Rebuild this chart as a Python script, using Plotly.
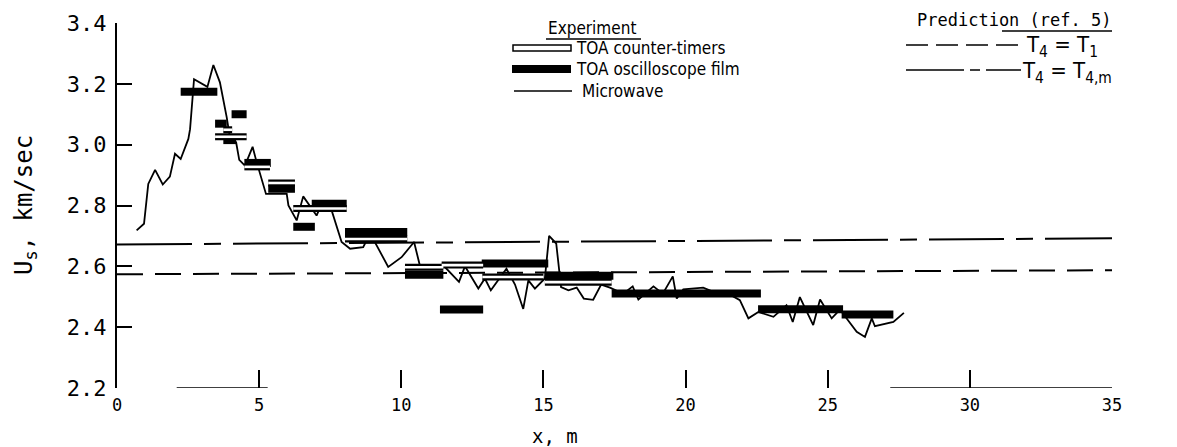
import plotly.graph_objects as go

# ---------------- data ----------------
# Microwave measurement (x in m, Us in km/sec)
mw_x = [0.69, 0.95, 1.10, 1.34, 1.61, 1.86, 2.04, 2.24, 2.51, 2.57, 2.71, 2.98, 3.18, 3.39,
        3.62, 3.86, 3.97, 4.19, 4.30, 4.50, 4.77, 4.89, 5.24, 5.97, 6.03, 6.32, 6.55, 7.02,
        7.20, 7.55, 7.90, 8.20, 8.66, 8.84, 9.07, 9.54, 10.01, 10.45, 10.66, 11.22, 11.45,
        12.03, 12.24, 12.71, 12.94, 13.15, 13.70, 14.00, 14.29, 14.47, 14.70, 15.05, 15.20,
        15.45, 15.62, 15.88, 16.17, 16.42, 16.75, 17.03, 17.34, 17.81, 18.14, 18.34, 18.87,
        19.20, 19.55, 19.69, 19.92, 20.62, 21.00, 21.50, 21.91, 22.21, 22.56, 23.09, 23.55,
        23.77, 24.02, 24.49, 24.73, 25.14, 25.43, 26.02, 26.31, 26.55, 26.66, 27.31, 27.54,
        27.68]
mw_v = [2.718, 2.740, 2.871, 2.917, 2.869, 2.895, 2.970, 2.953, 3.019, 3.051, 3.215, 3.199,
        3.190, 3.262, 3.205, 3.090, 3.024, 3.008, 2.950, 2.931, 2.993, 2.950, 2.838, 2.838,
        2.800, 2.751, 2.830, 2.767, 2.806, 2.784, 2.680, 2.658, 2.663, 2.696, 2.680, 2.598,
        2.630, 2.680, 2.600, 2.592, 2.606, 2.549, 2.600, 2.527, 2.560, 2.521, 2.592, 2.540,
        2.460, 2.554, 2.527, 2.560, 2.700, 2.675, 2.532, 2.521, 2.530, 2.494, 2.490, 2.540,
        2.530, 2.510, 2.534, 2.491, 2.534, 2.510, 2.567, 2.494, 2.524, 2.530, 2.515, 2.510,
        2.489, 2.429, 2.450, 2.434, 2.472, 2.417, 2.499, 2.407, 2.491, 2.429, 2.458, 2.385,
        2.368, 2.429, 2.403, 2.417, 2.434, 2.447]

# TOA oscilloscope film (filled bars): start x, end x, Us
film_x0 = [2.24, 4.03, 3.45, 3.74, 4.48, 5.32, 6.20, 6.85, 8.02, 10.13, 11.36, 12.83, 15.05, 17.40, 22.55, 25.49]
film_x1 = [3.53, 4.56, 3.86, 4.19, 5.41, 6.26, 6.96, 8.08, 10.21, 11.48, 12.88, 15.17, 17.46, 22.65, 25.54, 27.31]
film_v = [3.174, 3.100, 3.069, 3.015, 2.940, 2.855, 2.730, 2.806, 2.713, 2.572, 2.458, 2.609, 2.569, 2.511, 2.459, 2.442]

# TOA counter-timers (open bars): start x, end x, Us
timer_x0 = [3.45, 3.74, 4.48, 5.32, 6.20, 8.02, 10.13, 11.42, 12.85, 15.05]
timer_x1 = [4.56, 4.05, 5.38, 6.26, 8.08, 10.21, 11.48, 12.88, 15.00, 17.40]
timer_v = [3.026, 3.049, 2.927, 2.874, 2.790, 2.690, 2.597, 2.604, 2.565, 2.548]

# Predictions (ref. 5)
pred_x = [0, 35]
pred_t4_t1 = [2.574, 2.587]
pred_t4_t4m = [2.672, 2.692]

# axis ticks
x_ticks = [0, 5, 10, 15, 20, 25, 30, 35]
y_ticks = [2.2, 2.4, 2.6, 2.8, 3.0, 3.2, 3.4]


def segs(x0, x1, v):
    xs, ys = [], []
    for a, b, c in zip(x0, x1, v):
        xs += [a, b, None]
        ys += [c, c, None]
    return xs, ys


fig = go.Figure()

fig.add_trace(go.Scatter(x=pred_x, y=pred_t4_t4m, mode="lines",
                         line=dict(color="black", width=2, dash="75px,12px,17px,12px"),
                         hoverinfo="skip"))
fig.add_trace(go.Scatter(x=pred_x, y=pred_t4_t1, mode="lines",
                         line=dict(color="black", width=2, dash="26px,12px"),
                         hoverinfo="skip"))
fig.add_trace(go.Scatter(x=mw_x, y=mw_v, mode="lines",
                         line=dict(color="black", width=1.8), hoverinfo="skip"))

tx, ty = segs(timer_x0, timer_x1, timer_v)
fx, fy = segs(film_x0, film_x1, film_v)
fig.add_trace(go.Scatter(x=tx, y=ty, mode="lines", line=dict(color="black", width=7),
                         hoverinfo="skip"))
fig.add_trace(go.Scatter(x=fx, y=fy, mode="lines", line=dict(color="black", width=8),
                         hoverinfo="skip"))
fig.add_trace(go.Scatter(x=tx, y=ty, mode="lines", line=dict(color="white", width=2.6),
                         hoverinfo="skip"))

# ---------------- layout ----------------
L, R, T, B = 117, 1112, 23, 388
W, H = 1177, 447


def px(xp):
    return (xp - L) / (R - L)


def py(yp):
    return (B - yp) / (B - T)


FONT = "DejaVu Sans Mono, monospace"
LFONT = "DejaVu Sans Condensed, DejaVu Sans Mono, sans-serif"

shapes = []
annotations = []

# partial bottom axis (as in the scan)
for a, b in [(2.1, 5.3), (27.2, 35)]:
    shapes.append(dict(type="line", xref="x", yref="y", x0=a, x1=b, y0=2.2, y1=2.2,
                       line=dict(color="black", width=1.5)))

# legend: Experiment
annotations.append(dict(text="Experiment", x=px(546), y=py(28), xref="paper", yref="paper",
                        xanchor="left", yanchor="middle", showarrow=False,
                        font=dict(family=LFONT, size=17, color="black")))
shapes.append(dict(type="line", xref="paper", yref="paper", x0=px(546), x1=px(641),
                   y0=py(39), y1=py(39), line=dict(color="black", width=1.5)))

annotations.append(dict(text="Prediction (ref. 5)", x=px(1113), y=py(20), xref="paper", yref="paper",
                        xanchor="right", yanchor="middle", showarrow=False,
                        font=dict(family=FONT, size=17, color="black")))
shapes.append(dict(type="line", xref="paper", yref="paper", x0=px(1002), x1=px(1112),
                   y0=py(31), y1=py(31), line=dict(color="black", width=1.5)))

# row 1 open bar
shapes.append(dict(type="rect", xref="paper", yref="paper", x0=px(513), x1=px(571),
                   y0=py(51), y1=py(45), fillcolor="white", line=dict(color="black", width=1.5)))
annotations.append(dict(text="TOA counter-timers", x=px(574), y=py(48), xref="paper", yref="paper",
                        xanchor="left", yanchor="middle", showarrow=False,
                        font=dict(family=LFONT, size=17, color="black")))
# row 2 filled bar
shapes.append(dict(type="rect", xref="paper", yref="paper", x0=px(512), x1=px(571),
                   y0=py(73), y1=py(65), fillcolor="black", line=dict(color="black", width=0)))
annotations.append(dict(text="TOA oscilloscope film", x=px(574), y=py(69), xref="paper", yref="paper",
                        xanchor="left", yanchor="middle", showarrow=False,
                        font=dict(family=LFONT, size=17, color="black")))
# row 3 line
shapes.append(dict(type="line", xref="paper", yref="paper", x0=px(514), x1=px(572),
                   y0=py(91), y1=py(91), line=dict(color="black", width=1.5)))
annotations.append(dict(text="Microwave", x=px(580), y=py(91), xref="paper", yref="paper",
                        xanchor="left", yanchor="middle", showarrow=False,
                        font=dict(family=LFONT, size=17, color="black")))

# prediction legend
shapes.append(dict(type="line", xref="paper", yref="paper", x0=px(906), x1=px(1025),
                   y0=py(45), y1=py(45), line=dict(color="black", width=1.5, dash="22px,8px")))
annotations.append(dict(text="T<sub>4</sub> = T<sub>1</sub>", x=px(1024), y=py(47),
                        xref="paper", yref="paper", xanchor="left", yanchor="middle",
                        showarrow=False, font=dict(family=LFONT, size=22, color="black")))
shapes.append(dict(type="line", xref="paper", yref="paper", x0=px(906), x1=px(1021),
                   y0=py(70), y1=py(70), line=dict(color="black", width=1.5, dash="58px,6px,10px,6px")))
annotations.append(dict(text="T<sub>4</sub> = T<sub>4,m</sub>", x=px(1020), y=py(72),
                        xref="paper", yref="paper", xanchor="left", yanchor="middle",
                        showarrow=False, font=dict(family=LFONT, size=22, color="black")))

# axis titles
annotations.append(dict(text="U<sub>s</sub>, km/sec", x=px(26), y=py(205), xref="paper", yref="paper",
                        xanchor="center", yanchor="middle", textangle=-90, showarrow=False,
                        font=dict(family=FONT, size=24, color="black")))
annotations.append(dict(text="x, m", x=px(555), y=py(436), xref="paper", yref="paper",
                        xanchor="center", yanchor="middle", showarrow=False,
                        font=dict(family=FONT, size=19, color="black")))

fig.update_layout(
    width=W, height=H,
    margin=dict(l=L, r=W - R, t=T, b=H - B),
    plot_bgcolor="white", paper_bgcolor="white",
    showlegend=False,
    shapes=shapes, annotations=annotations,
    xaxis=dict(range=[0, 35], tickvals=x_ticks, ticks="inside", ticklen=18, tickwidth=1.5,
               tickcolor="black", showline=False, showgrid=False, zeroline=False,
               tickfont=dict(family=FONT, size=17, color="black"), ticklabelstandoff=5),
    yaxis=dict(range=[2.2, 3.4], tickvals=y_ticks, tickformat=".1f", ticks="inside", ticklen=15,
               tickwidth=2, tickcolor="black", showline=True, linewidth=2, linecolor="black",
               showgrid=False, zeroline=False,
               tickfont=dict(family=FONT, size=22, color="black"), ticklabelstandoff=4),
)

fig.write_html("out.html", config={"displayModeBar": False},
               post_script="document.body.style.margin='0px';document.body.style.overflow='hidden';")
